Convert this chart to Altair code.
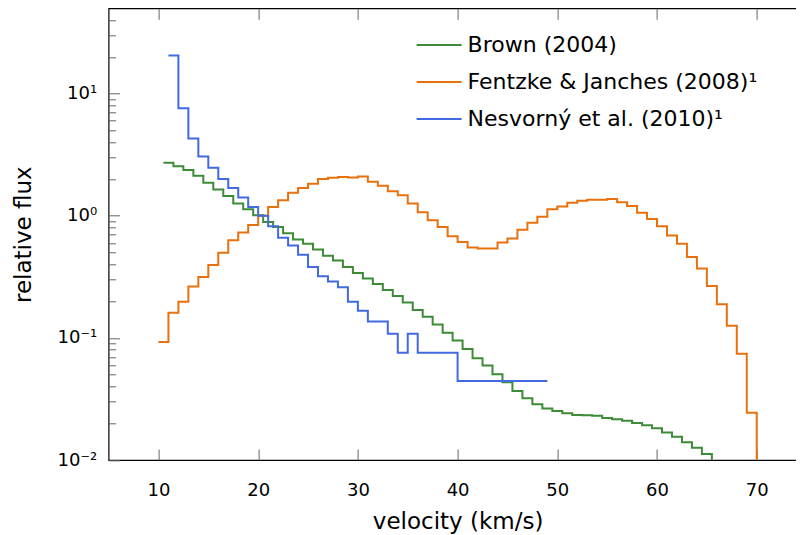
import json
import altair as alt
import pandas as pd

# ---------------- data ----------------
series_names = ["Brown (2004)", "Fentzke & Janches (2008)¹", "Nesvorný et al. (2010)¹"]
series_colors = ["#3d8b37", "#e8710e", "#4169e1"]
series_drop_to_axis = [True, True, False]

brown_edges = [10.5, 11.5, 12.5, 13.5, 14.5, 15.5, 16.5, 17.5, 18.5, 19.5,
               20.5, 21.5, 22.5, 23.5, 24.5, 25.5, 26.5, 27.5, 28.5, 29.5,
               30.5, 31.5, 32.5, 33.5, 34.5, 35.5, 36.5, 37.5, 38.5, 39.5,
               40.5, 41.5, 42.5, 43.5, 44.5, 45.5, 46.5, 47.5, 48.5, 49.5,
               50.5, 51.5, 52.5, 53.5, 54.5, 55.5, 56.5, 57.5, 58.5, 59.5,
               60.5, 61.5, 62.5, 63.5, 64.5, 65.5]
brown_flux = [2.72, 2.55, 2.37, 2.13, 1.86, 1.64, 1.45, 1.26, 1.13, 1.01,
              0.89, 0.81, 0.72, 0.64, 0.59, 0.53, 0.47, 0.43, 0.38, 0.34,
              0.307, 0.276, 0.247, 0.220, 0.195, 0.169, 0.149, 0.129, 0.110, 0.095,
              0.081, 0.068, 0.0593, 0.0504, 0.0433, 0.0368, 0.032, 0.0286, 0.0264, 0.0252,
              0.0241, 0.0234, 0.0233, 0.023, 0.0221, 0.0216, 0.021, 0.0201, 0.0193, 0.0182,
              0.0168, 0.0155, 0.014, 0.0126, 0.0112]

fentzke_edges = [10, 11, 12, 13, 14, 15, 16, 17, 18, 19,
                 20, 21, 22, 23, 24, 25, 26, 27, 28, 29,
                 30, 31, 32, 33, 34, 35, 36, 37, 38, 39,
                 40, 41, 42, 43, 44, 45, 46, 47, 48, 49,
                 50, 51, 52, 53, 54, 55, 56, 57, 58, 59,
                 60, 61, 62, 63, 64, 65, 66, 67, 68, 69, 70]
fentzke_flux = [0.0925, 0.161, 0.198, 0.263, 0.315, 0.395, 0.498, 0.629, 0.731, 0.84,
                1.0, 1.18, 1.34, 1.54, 1.69, 1.83, 2.0, 2.05, 2.08, 2.06,
                2.1, 1.9, 1.76, 1.59, 1.47, 1.26, 1.07, 0.92, 0.81, 0.68,
                0.61, 0.55, 0.54, 0.54, 0.605, 0.65, 0.77, 0.875, 0.98, 1.13,
                1.19, 1.28, 1.33, 1.35, 1.35, 1.37, 1.29, 1.2, 1.06, 0.94,
                0.82, 0.69, 0.59, 0.46, 0.37, 0.266, 0.189, 0.126, 0.074, 0.0244]

nesvorny_edges = [11, 12, 13, 14, 15, 16, 17, 18, 19, 20,
                  21, 22, 23, 24, 25, 26, 27, 28, 29, 30,
                  31, 33, 34, 35, 36, 40, 49]
nesvorny_flux = [20.5, 7.6, 4.3, 3.06, 2.47, 2.0, 1.69, 1.41, 1.18, 1.0,
                 0.82, 0.66, 0.57, 0.48, 0.38, 0.32, 0.29, 0.26, 0.198, 0.167,
                 0.136, 0.108, 0.0757, 0.108, 0.0757, 0.0444]

x_domain = [5, 75]
y_domain = [0.01, 50]
x_ticks = [10, 20, 30, 40, 50, 60, 70]
y_major = [0.01, 0.1, 1, 10]
y_major_labels = ["10⁻²", "10⁻¹", "10⁰", "10¹"]
y_minor = [0.02, 0.03, 0.04, 0.05, 0.06, 0.07, 0.08, 0.09,
           0.2, 0.3, 0.4, 0.5, 0.6, 0.7, 0.8, 0.9,
           2, 3, 4, 5, 6, 7, 8, 9, 20, 30, 40]

# ---------------- table ----------------
rows = []
for name, edges, flux, drop in zip(series_names,
                                   [brown_edges, fentzke_edges, nesvorny_edges],
                                   [brown_flux, fentzke_flux, nesvorny_flux],
                                   series_drop_to_axis):
    for e, f in zip(edges, flux):
        rows.append({"series": name, "v": e, "flux": f})
    rows.append({"series": name, "v": edges[-1], "flux": y_domain[0] if drop else flux[-1]})
df = pd.DataFrame(rows)

W = 698
H = 451.7
FONT = "DejaVu Sans"

xs = alt.Scale(domain=x_domain, nice=False, zero=False)
ys = alt.Scale(type="log", domain=y_domain, nice=False)

label_expr = json.dumps(y_major_labels, ensure_ascii=False) + "[round(log(datum.value)/LN10)+2]"

main = alt.Chart(df).mark_line(interpolate="step-after", strokeWidth=2).encode(
    x=alt.X("v:Q", scale=xs,
            axis=alt.Axis(values=x_ticks, title="velocity (km/s)", ticks=False, domain=False,
                          grid=False, labelPadding=21, titlePadding=11,
                          labelFontSize=18, titleFontSize=23)),
    y=alt.Y("flux:Q", scale=ys,
            axis=alt.Axis(values=y_major, labelExpr=label_expr, ticks=False, domain=False,
                          grid=False, labelPadding=12, title="relative flux", titlePadding=21,
                          labelFontSize=18, titleFontSize=23)),
    color=alt.Color("series:N",
                    scale=alt.Scale(domain=series_names, range=series_colors),
                    legend=alt.Legend(orient="none", legendX=308, legendY=24.2, title=None,
                                      symbolType="M-2,0H2", symbolSize=506,
                                      symbolStrokeWidth=2, symbolOffset=10,
                                      labelOffset=16, rowPadding=13, padding=0,
                                      labelFontSize=22, labelLimit=500)),
)


def tick_axis(orient, offset, values, size):
    return alt.Axis(orient=orient, offset=offset, values=values, tickSize=size,
                    labels=False, domain=False, grid=False, title=None,
                    tickColor="#666666", tickWidth=1)


def tick_layer(xaxis, yaxis):
    return alt.Chart(df).mark_line(opacity=0).encode(
        x=alt.X("v:Q", scale=xs, axis=xaxis),
        y=alt.Y("flux:Q", scale=ys, axis=yaxis),
    )


layers = [
    main,
    tick_layer(tick_axis("top", -H, x_ticks, 11), tick_axis("right", -W, y_major, 11)),
    tick_layer(tick_axis("bottom", -H, x_ticks, 11), tick_axis("left", -W, y_major, 11)),
    tick_layer(None, tick_axis("right", -W, y_minor, 7)),
    tick_layer(None, tick_axis("left", -W, y_minor, 7)),
]

chart = alt.layer(*layers).resolve_axis(x="independent", y="independent").properties(
    width=W, height=H,
    autosize=alt.AutoSizeParams(type="none"),
    padding={"left": 100.6, "top": 0.3, "right": -10.6, "bottom": 75},
).configure_view(stroke="black", strokeWidth=1.2).configure_axis(
    labelFont=FONT, titleFont=FONT, labelColor="black", titleColor="black",
    titleFontWeight="normal",
).configure_legend(labelFont=FONT, labelColor="black")

chart.save("out.html", embed_options={"renderer": "svg", "actions": False})
